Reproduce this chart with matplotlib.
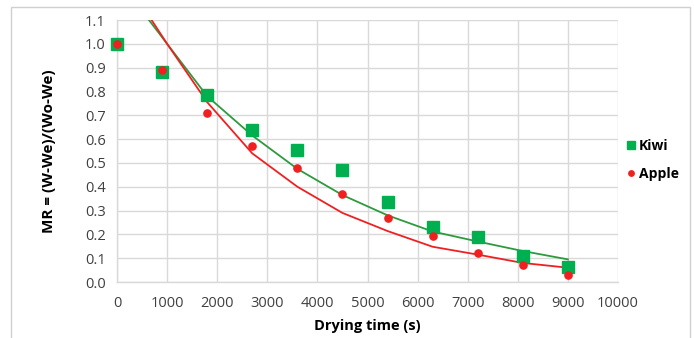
import matplotlib
matplotlib.use("Agg")
import matplotlib.pyplot as plt
from matplotlib.patches import Rectangle

plt.rcParams["font.family"] = ["Open Sans", "DejaVu Sans"]

# measured drying data
time_s = [0, 900, 1800, 2700, 3600, 4500, 5400, 6300, 7200, 8100, 9000]
mr_kiwi = [1.0, 0.88, 0.785, 0.64, 0.555, 0.47, 0.335, 0.23, 0.188, 0.11, 0.064]
mr_apple = [1.0, 0.888, 0.709, 0.573, 0.478, 0.371, 0.27, 0.193, 0.122, 0.073, 0.03]

# fitted model curves
fit_t_kiwi = [637, 1000, 1800, 2700, 3600, 4500, 5400, 6300, 7200, 8100, 9000]
fit_kiwi = [1.1, 1.0, 0.78, 0.615, 0.475, 0.365, 0.28, 0.212, 0.17, 0.13, 0.095]
fit_t_apple = [690, 1000, 1800, 2700, 3600, 4500, 5400, 6300, 7200, 8100, 9000]
fit_apple = [1.1, 1.0, 0.755, 0.54, 0.40, 0.29, 0.214, 0.148, 0.115, 0.08, 0.06]

x_ticks = list(range(0, 10001, 1000))
y_ticks = [round(0.1 * i, 1) for i in range(12)]

KIWI_MARK = "#00B050"
KIWI_LINE = "#2E9A3E"
APPLE = "#F02020"
GRID = "#D9D9D9"

fig = plt.figure(figsize=(6.94, 3.38), dpi=100)
ax = fig.add_axes([117 / 694, 1 - 282 / 338, (618 - 117) / 694, (282 - 20) / 338])

# chart frame
fig.patches.append(Rectangle((11 / 694, -0.1), (690 - 11) / 694, 1.1 - 7 / 338,
                             transform=fig.transFigure, fill=False,
                             edgecolor="#D0D0D0", linewidth=1.0))

ax.plot(fit_t_kiwi, fit_kiwi, color=KIWI_LINE, linewidth=1.3, zorder=2)
ax.plot(fit_t_apple, fit_apple, color=APPLE, linewidth=1.3, zorder=2)
ax.plot(time_s, mr_kiwi, linestyle="none", marker="s", markersize=8.3,
        color=KIWI_MARK, label="Kiwi", zorder=3, clip_on=False)
ax.plot(time_s, mr_apple, linestyle="none", marker="o", markersize=5.2,
        color=APPLE, label="Apple", zorder=4, clip_on=False)

ax.set_xlim(0, 10000)
ax.set_ylim(0, 1.1)
ax.set_xticks(x_ticks)
ax.set_yticks(y_ticks)
ax.set_yticklabels([f"{v:.1f}" for v in y_ticks])
ax.tick_params(length=0, labelsize=10.5, colors="#404040", pad=8)
ax.tick_params(axis="x", pad=10)
ax.grid(True, color=GRID, linewidth=1.0)
ax.set_axisbelow(True)
for side in ["top", "right"]:
    ax.spines[side].set_visible(False)
for side in ["left", "bottom"]:
    ax.spines[side].set_color(GRID)
    ax.spines[side].set_linewidth(1.0)

ax.set_xlabel("Drying time (s)", fontsize=10.5, fontweight="bold", labelpad=6)
ax.set_ylabel("MR = (W-We)/(Wo-We)", fontsize=11, fontweight="bold", labelpad=21)

fig.legend(loc="center left", bbox_to_anchor=(612 / 694, 1 - 160 / 338),
           frameon=False, prop={"weight": "bold", "size": 10},
           handletextpad=0.05, labelspacing=1.0, handlelength=1.0,
           markerscale=0.75)

fig.savefig("out.png", dpi=100)
